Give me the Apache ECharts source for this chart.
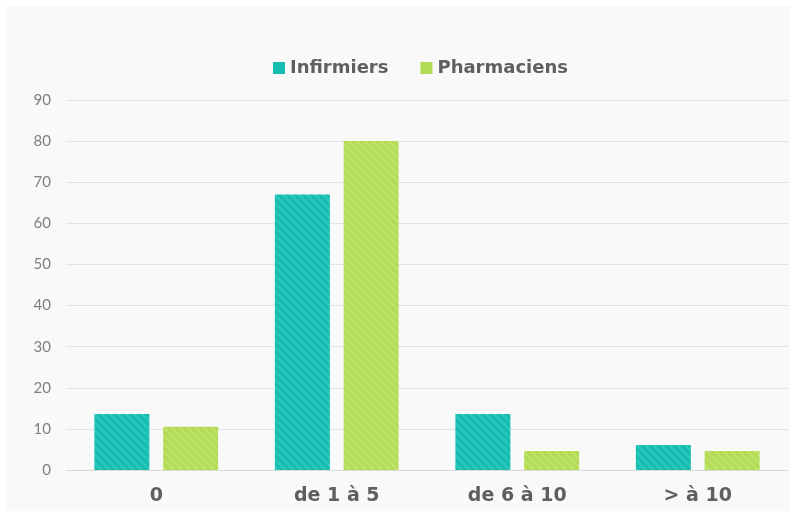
<!DOCTYPE html>
<html>
<head>
<meta charset="utf-8">
<script src="https://cdn.jsdelivr.net/npm/echarts@6/dist/echarts.min.js"></script>
<style>
  html, body { margin: 0; padding: 0; background: #fff; }
  #chart { width: 809px; height: 513px; }
</style>
</head>
<body>
<div id="chart"></div>
<script>
// data
var categories = ['0', 'de 1 à 5', 'de 6 à 10', '> à 10'];
var infirmiers = [13.6, 67, 13.6, 6.1];
var pharmaciens = [10.5, 80, 4.6, 4.6];
var yTicks = [0, 10, 20, 30, 40, 50, 60, 70, 80, 90];

// hatched fill, like the original bars
function stripes(base, light) {
  var c = document.createElement('canvas');
  c.width = 8; c.height = 8;
  var ctx = c.getContext('2d');
  ctx.fillStyle = base;
  ctx.fillRect(0, 0, 8, 8);
  ctx.strokeStyle = light;
  ctx.lineWidth = 2;
  ctx.beginPath();
  ctx.moveTo(-2, -2); ctx.lineTo(10, 10);
  ctx.moveTo(-6, 2); ctx.lineTo(6, 14);
  ctx.moveTo(2, -6); ctx.lineTo(14, 6);
  ctx.stroke();
  return { image: c, repeat: 'repeat' };
}

var teal = '#17bcb0';
var green = '#b2dc56';

var myChart = echarts.init(document.getElementById('chart'));

var option = {
  backgroundColor: '#fff',
  animation: false,
  graphic: [{
    type: 'rect',
    z: -10,
    shape: { x: 6, y: 6, width: 784, height: 505 },
    style: { fill: '#f9f9f9' }
  }],
  legend: {
    top: 54,
    left: 268,
    icon: 'rect',
    itemWidth: 12,
    itemHeight: 12,
    itemGap: 32,
    textStyle: { color: '#5f5f5f', fontSize: 18, fontWeight: 'bold', fontFamily: 'DejaVu Sans' },
    data: [
      { name: 'Infirmiers', itemStyle: { color: teal } },
      { name: 'Pharmaciens', itemStyle: { color: green } }
    ]
  },
  grid: { left: 66, right: 21, top: 100, bottom: 43, containLabel: false },
  xAxis: {
    type: 'category',
    data: categories,
    axisLine: { lineStyle: { color: '#d9d9d9' } },
    axisTick: { show: false },
    axisLabel: { color: '#5f5f5f', fontSize: 19, fontWeight: 'bold', fontFamily: 'DejaVu Sans', margin: 17 }
  },
  yAxis: {
    type: 'value',
    min: yTicks[0],
    max: yTicks[yTicks.length - 1],
    interval: 10,
    axisLine: { show: false },
    axisTick: { show: false },
    axisLabel: { color: '#7f7f7f', fontSize: 15, fontFamily: 'Lato', margin: 15 },
    splitLine: { lineStyle: { color: '#e3e3e3' } }
  },
  series: [
    {
      name: 'Infirmiers',
      type: 'bar',
      data: infirmiers,
      barWidth: 55,
      barGap: '25%',
      itemStyle: { color: stripes(teal, '#2ccabd') }
    },
    {
      name: 'Pharmaciens',
      type: 'bar',
      data: pharmaciens,
      barWidth: 55,
      itemStyle: { color: stripes(green, '#c0e46b') }
    }
  ]
};

myChart.setOption(option);
</script>
</body>
</html>
